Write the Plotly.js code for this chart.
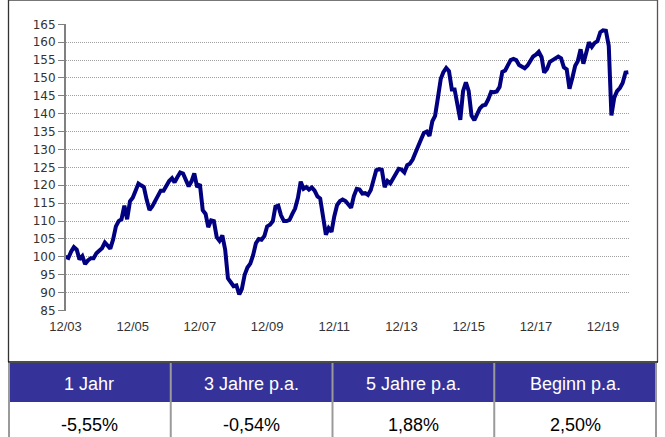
<!DOCTYPE html>
<html><head><meta charset="utf-8">
<script src="https://cdn.plot.ly/plotly-3.0.1.min.js"></script>
<style>html,body{margin:0;padding:0;background:#fff;overflow:hidden}</style>
</head><body><div id="chart" style="width:665px;height:437px"></div>
<script>
// monthly index values, starting 12/2003
const startYear = 2003, startMonth = 12;
const values = [
  100, 99.7, 101.5, 102.7, 102, 99.3, 100.2, 98, 99, 99.6, 99.6, 101,
  101.7, 102.4, 104, 103, 102.3, 104.8, 108.5, 110, 110.5, 114.3, 110.5, 115.5,
  116.5, 118.5, 120.5, 120, 119.5, 116, 113.1, 114.1, 115.5, 117, 118.5, 118.5,
  120.1, 121.2, 122, 120.8, 122.3, 123.6, 123.3, 121.3, 119.7, 121.1, 123.3, 119.5,
  120.3, 113, 112, 108.3, 110.2, 110, 105.5, 104.5, 106, 102, 94, 92.9,
  91.8, 92, 89.5, 91, 95, 97, 98.1, 100.4, 103.8, 105, 104.8, 105.8,
  108.5, 109, 110, 114, 114.3, 111.6, 110, 110, 110.3, 112, 113.5, 116.5,
  121, 119, 119.5, 118.8, 119.4, 118.5, 116.9, 116.3, 112, 106.2, 108, 107,
  111.3, 114.5, 115.6, 116, 115.6, 114.6, 113.7, 117, 119, 118.8, 117.7, 117.8,
  117.3, 118.7, 121.3, 124.2, 124.5, 124.3, 119.5, 121.2, 120.5, 121.8, 123.3, 124.6,
  124.4, 123.6, 125.6, 126, 127.2, 129.4, 131, 132.8, 134.6, 135, 133.8, 137.9,
  139.4, 144.5, 149.8, 151.6, 152.8, 151.9, 146.8, 146.8, 142.1, 138.3, 146.3, 148.8,
  146.4, 139.5, 138.2, 139.8, 141.5, 142.3, 142.5, 144, 146.1, 146, 146.2, 147.5,
  151.7, 152.1, 154, 155, 155.3, 155, 153.6, 153.3, 152.7, 153.5, 154.9, 156,
  156.5, 157.3, 155.8, 151.5, 152.5, 154.5, 155, 155.5, 156, 155.5, 153, 152.4,
  147, 150, 153.4, 154.7, 158, 154, 157, 160, 158.7, 159.8, 160.3, 162.8,
  163.3, 163.2, 159, 139.5, 144.5, 146.3, 147.2, 148.6, 151.5, 151.6
];
const xTickVals = ['2003-12-01','2005-12-01','2007-12-01','2009-12-01','2011-12-01','2013-12-01','2015-12-01','2017-12-01','2019-12-01'];
const xTickText = ['12/03','12/05','12/07','12/09','12/11','12/13','12/15','12/17','12/19'];
const tableHeaders = ['1 Jahr','3 Jahre p.a.','5 Jahre p.a.','Beginn p.a.'];
const tableValues = ['-5,55%','-0,54%','1,88%','2,50%'];

const dates = values.map((v, i) => {
  const t = startMonth - 1 + i;
  const y = startYear + Math.floor(t / 12);
  const m = (t % 12) + 1;
  return y + '-' + String(m).padStart(2, '0') + '-01';
});

const W = 665, H = 437;
const px = v => v / W, py = v => 1 - v / H;

const lineTrace = {
  type: 'scatter', mode: 'lines', x: dates, y: values,
  line: {color: '#000080', width: 4, shape: 'linear'},
  hoverinfo: 'skip'
};

// table geometry (pixels)
const tblLeft = 8, tblRight = 657, hdrTop = 363, hdrBottom = 402;
const colW = (tblRight - tblLeft) / tableHeaders.length;

const shapes = [
  // chart frame
  {type: 'line', xref: 'paper', yref: 'paper', x0: px(8), x1: px(658), y0: py(0.5), y1: py(0.5), line: {color: '#777777', width: 1}},
  {type: 'line', xref: 'paper', yref: 'paper', x0: px(8.5), x1: px(8.5), y0: py(0), y1: py(362), line: {color: '#333333', width: 1.3}},
  {type: 'line', xref: 'paper', yref: 'paper', x0: px(657.5), x1: px(657.5), y0: py(0), y1: py(362), line: {color: '#555555', width: 1.3}},
  // header band
  {type: 'rect', xref: 'paper', yref: 'paper', x0: px(tblLeft), x1: px(tblRight), y0: py(hdrBottom), y1: py(hdrTop), fillcolor: '#353399', line: {width: 0}, layer: 'above'},
  {type: 'line', xref: 'paper', yref: 'paper', x0: px(8), x1: px(658), y0: py(362), y1: py(362), line: {color: '#111111', width: 1.5}}
];
for (let i = 0; i <= tableHeaders.length; i++) {
  const x = tblLeft + 1 + i * (colW - 0.5);
  shapes.push({type: 'line', xref: 'paper', yref: 'paper', x0: px(x), x1: px(x), y0: py(H), y1: py(hdrTop), line: {color: '#9a9a9a', width: 2}, layer: 'above'});
}

const annotations = [];
tableHeaders.forEach((h, i) => {
  annotations.push({xref: 'paper', yref: 'paper', x: px(tblLeft + colW * (i + 0.5)), y: py(383.5), xanchor: 'center', yanchor: 'middle', showarrow: false, text: h, font: {family: 'Liberation Sans, Arial', size: 18, color: '#ffffff'}});
});
tableValues.forEach((v, i) => {
  annotations.push({xref: 'paper', yref: 'paper', x: px(tblLeft + colW * (i + 0.5)), y: py(424.5), xanchor: 'center', yanchor: 'middle', showarrow: false, text: v, font: {family: 'Liberation Sans, Arial', size: 18, color: '#000000'}});
});

const layout = {
  width: W, height: H,
  margin: {l: 0, r: 0, t: 0, b: 0},
  paper_bgcolor: '#ffffff', plot_bgcolor: '#ffffff',
  showlegend: false,
  xaxis: {
    type: 'date', domain: [px(65.5), px(630)],
    range: ['2003-12-01', '2020-09-19'],
    tickmode: 'array', tickvals: xTickVals, ticktext: xTickText,
    showgrid: false, zeroline: false, showline: false, ticks: '',
    ticklabelstandoff: 6,
    tickfont: {family: 'Liberation Sans, Arial', size: 13, color: '#333333'}
  },
  yaxis: {
    domain: [py(310.5), py(24.3)],
    range: [85, 165], tick0: 85, dtick: 5,
    showgrid: true, gridcolor: '#a0a0a0', griddash: '1px,1px', gridwidth: 1,
    showline: true, linecolor: '#808080', linewidth: 1.5,
    ticks: 'outside', ticklen: 6, tickcolor: '#808080', tickwidth: 1,
    zeroline: false,
    tickfont: {family: 'DejaVu Sans', size: 12, color: '#333333'}
  },
  shapes: shapes,
  annotations: annotations
};

Plotly.newPlot('chart', [lineTrace], layout, {displayModeBar: false, staticPlot: true});
</script></body></html>
